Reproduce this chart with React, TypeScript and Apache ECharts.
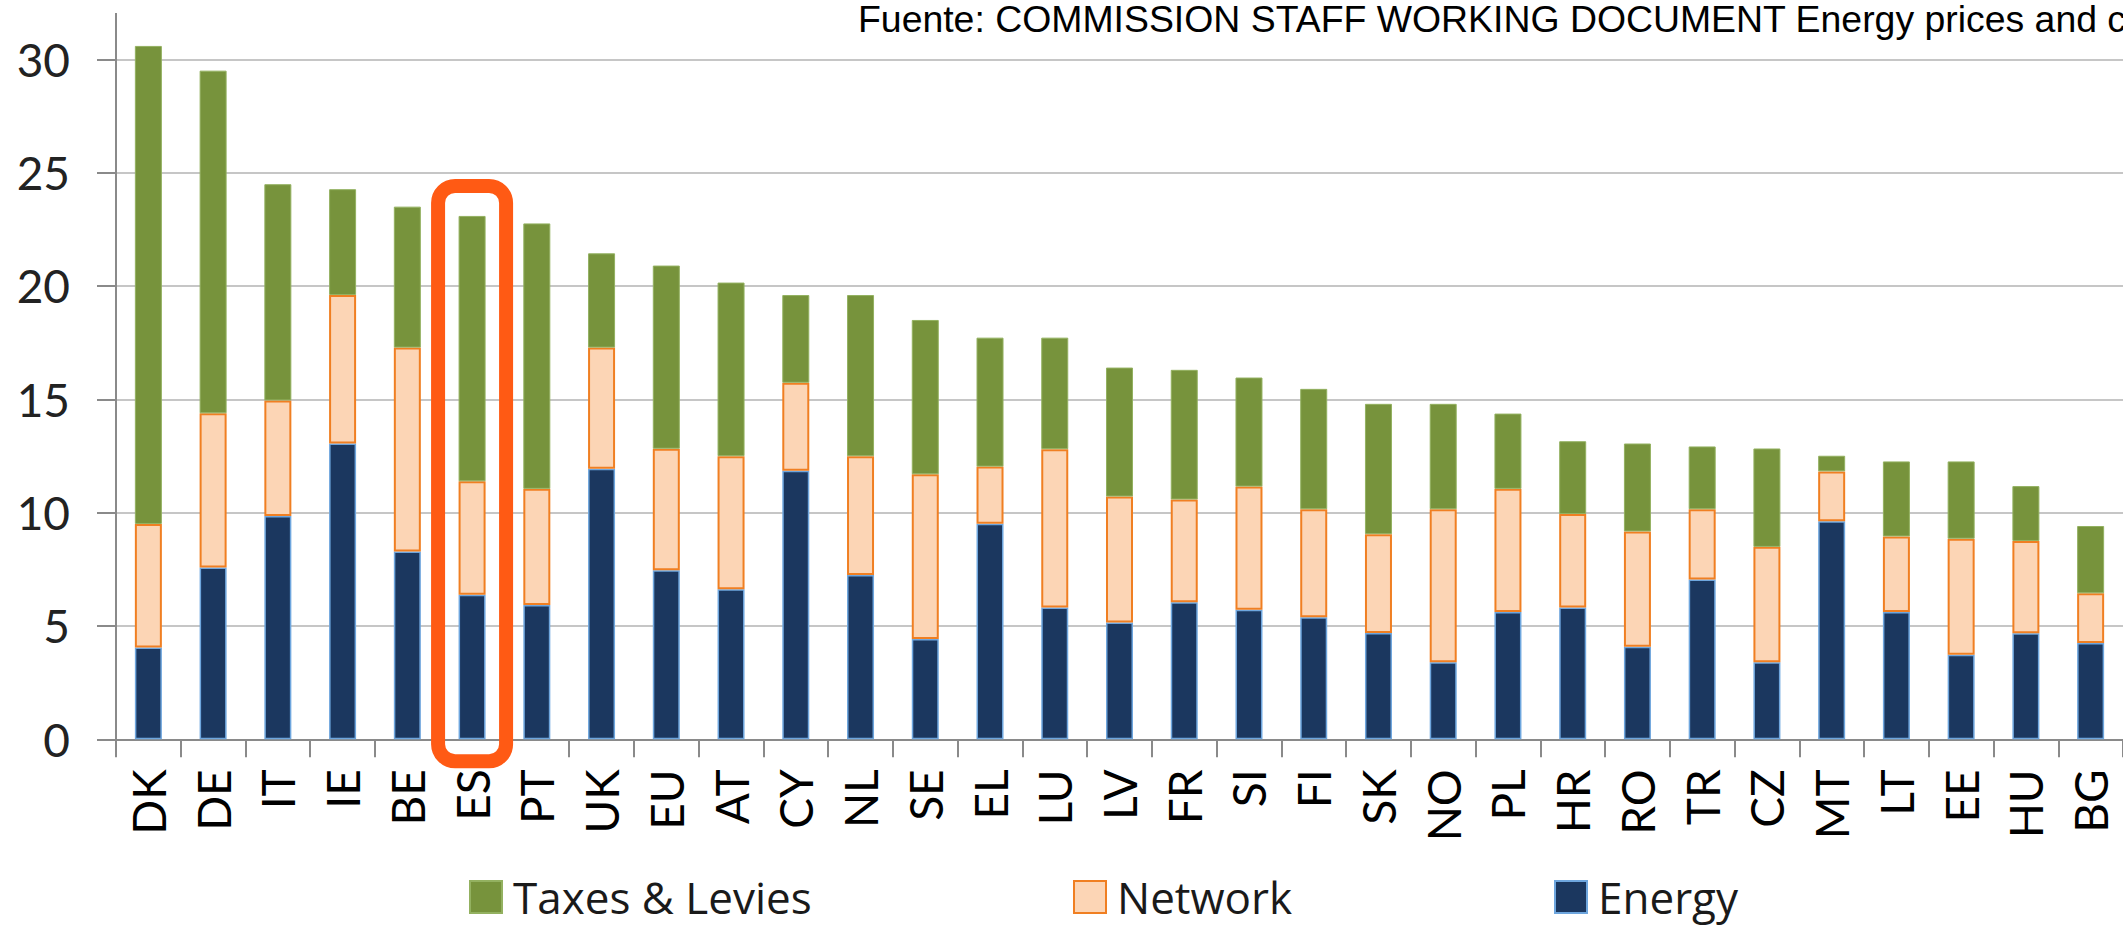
import React, { useEffect, useRef } from "react";
import * as echarts from "echarts";

const categories = ["DK", "DE", "IT", "IE", "BE", "ES", "PT", "UK", "EU", "AT", "CY", "NL", "SE", "EL", "LU", "LV", "FR", "SI", "FI", "SK", "NO", "PL", "HR", "RO", "TR", "CZ", "MT", "LT", "EE", "HU", "BG"];
const energy = [4.05, 7.58, 9.85, 13.05, 8.28, 6.38, 5.92, 11.94, 7.46, 6.62, 11.85, 7.25, 4.42, 9.51, 5.82, 5.15, 6.05, 5.71, 5.38, 4.69, 3.4, 5.62, 5.82, 4.08, 7.05, 3.4, 9.62, 5.62, 3.73, 4.68, 4.25];
const network = [5.45, 6.8, 5.1, 6.55, 9.0, 5.0, 5.13, 5.34, 5.36, 5.87, 3.88, 5.24, 7.27, 2.52, 6.98, 5.56, 4.53, 5.44, 4.77, 4.36, 6.75, 5.43, 4.12, 5.09, 3.1, 5.09, 2.2, 3.33, 5.12, 4.07, 2.19];
const taxes = [21.09, 15.12, 9.54, 4.67, 6.22, 11.71, 11.71, 4.16, 8.08, 7.66, 3.87, 7.11, 6.81, 5.69, 4.92, 5.69, 5.72, 4.81, 5.31, 5.75, 4.65, 3.32, 3.21, 3.88, 2.77, 4.34, 0.69, 3.31, 3.41, 2.42, 2.97];
const yMin = 0;
const yMax = 30;
const yStep = 5;
const seriesNames = ["Taxes & Levies", "Network", "Energy"];
const sourceText = "Fuente: COMMISSION STAFF WORKING DOCUMENT Energy prices and costs in Europe";
const highlighted = "ES";

const GRID_LEFT = 116;
const GRID_TOP = 59.3;
const GRID_HEIGHT = 680;
const CAT_W = 65.25;
const AXIS_COLOR = "#8a8a8a";
const LABEL_FONT = "Lato, 'Open Sans', sans-serif";
const LEGEND_FONT = "'Open Sans', Lato, sans-serif";

export default function App() {
  const ref = useRef<HTMLDivElement>(null);

  useEffect(() => {
    if (!ref.current) return;
    const chart = echarts.init(ref.current, undefined, { renderer: "svg" });

    const legendText = {
      fontFamily: LEGEND_FONT,
      fontSize: 44,
      color: "#1a1a1a",
      lineHeight: 36,
      padding: [0, 0, 12, 6],
    };
    const legendBase = {
      top: 873,
      padding: 0,
      itemWidth: 32,
      itemHeight: 32,
      icon: "rect",
      selectedMode: false,
      textStyle: legendText,
    };

    const option: any = {
      animation: false,
      backgroundColor: "#ffffff",
      title: {
        text: sourceText,
        left: 858,
        top: 0,
        padding: 0,
        textStyle: {
          fontFamily: "'Liberation Sans', Arial, sans-serif",
          fontSize: 37.4,
          fontWeight: "normal",
          color: "#000000",
        },
      },
      legend: [
        { ...legendBase, data: [seriesNames[0]], left: 469 },
        { ...legendBase, data: [seriesNames[1]], left: 1073 },
        { ...legendBase, data: [seriesNames[2]], left: 1554 },
      ],
      grid: {
        left: GRID_LEFT,
        top: GRID_TOP,
        width: CAT_W * categories.length,
        height: GRID_HEIGHT,
        containLabel: false,
      },
      xAxis: {
        type: "category",
        data: categories,
        axisLine: { show: true, lineStyle: { color: AXIS_COLOR, width: 2 } },
        axisTick: { show: true, length: 18, lineStyle: { color: AXIS_COLOR, width: 2 } },
        axisLabel: {
          interval: 0,
          rotate: 90,
          margin: 30,
          fontFamily: LABEL_FONT,
          fontSize: 46,
          color: "#000000",
        },
      },
      yAxis: {
        type: "value",
        min: yMin,
        max: yMax,
        interval: yStep,
        axisLine: { show: true, lineStyle: { color: AXIS_COLOR, width: 2 } },
        axisTick: { show: true, length: 19, lineStyle: { color: AXIS_COLOR, width: 2 } },
        splitLine: { show: true, lineStyle: { color: "#c6c6c6", width: 2 } },
        axisLabel: {
          margin: 46,
          fontFamily: LABEL_FONT,
          fontSize: 46,
          color: "#222222",
        },
      },
      series: [
        {
          name: seriesNames[2],
          type: "bar",
          stack: "total",
          barWidth: 27,
          clip: false,
          data: energy,
          itemStyle: { color: "#1b375f", borderColor: "#6ea6de", borderWidth: 1.5 },
        },
        {
          name: seriesNames[1],
          type: "bar",
          stack: "total",
          barWidth: 27,
          clip: false,
          data: network,
          itemStyle: { color: "#fcd5b5", borderColor: "#f07f22", borderWidth: 2 },
        },
        {
          name: seriesNames[0],
          type: "bar",
          stack: "total",
          barWidth: 27,
          clip: false,
          data: taxes,
          itemStyle: { color: "#77933c", borderColor: "#93b160", borderWidth: 1 },
        },
      ],
    };

    chart.setOption(option);

    const idx = categories.indexOf(highlighted);
    const total = energy[idx] + network[idx] + taxes[idx];
    const pTop = chart.convertToPixel({ xAxisIndex: 0, yAxisIndex: 0 }, [highlighted, total]) as number[];
    const pZero = chart.convertToPixel({ xAxisIndex: 0, yAxisIndex: 0 }, [highlighted, 0]) as number[];
    const pMax = chart.convertToPixel({ xAxisIndex: 0, yAxisIndex: 0 }, [categories[0], yMax]) as number[];

    const boxTop = pTop[1] - 30;
    const boxBottom = pZero[1] + 22;

    chart.setOption({
      graphic: [
        {
          type: "line",
          z: 50,
          shape: { x1: GRID_LEFT, y1: 13, x2: GRID_LEFT, y2: pMax[1] },
          style: { stroke: AXIS_COLOR, lineWidth: 2 },
        },
        {
          type: "rect",
          z: 100,
          shape: { x: pTop[0] - 34, y: boxTop, width: 68, height: boxBottom - boxTop, r: 17 },
          style: { fill: "none", stroke: "#ff5a14", lineWidth: 14 },
        },
      ],
    });

    return () => {
      chart.dispose();
    };
  }, []);

  return (
    <div
      ref={ref}
      style={{ position: "absolute", left: 0, top: 0, width: 2123, height: 926, background: "#ffffff" }}
    />
  );
}
